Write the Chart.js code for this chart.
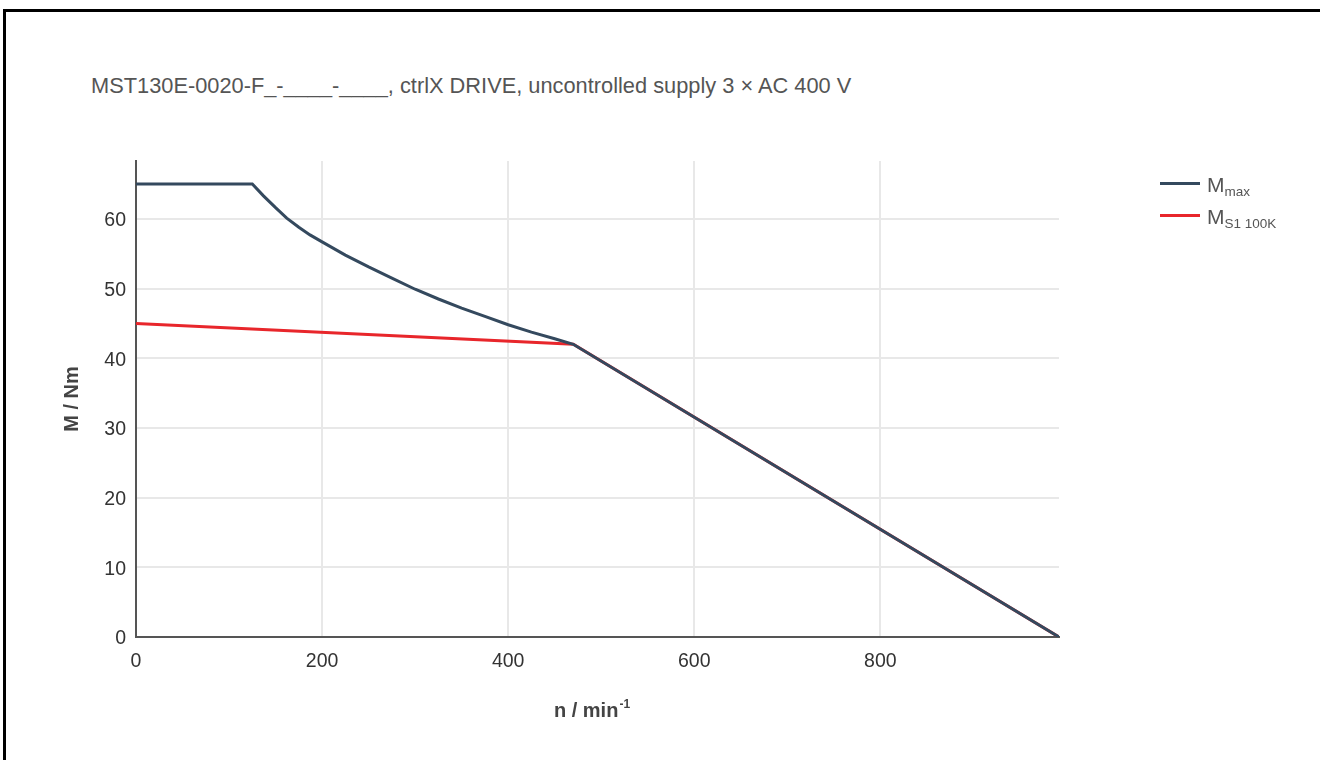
<!DOCTYPE html>
<html>
<head>
<meta charset="utf-8">
<script src="https://cdn.jsdelivr.net/npm/chart.js@4.4.1/dist/chart.umd.min.js"></script>
<style>
  html, body { margin: 0; padding: 0; background: #fff; overflow: hidden; }
  body { width: 1320px; height: 760px; position: relative; font-family: "Liberation Sans", Arial, sans-serif; }
  #frame { position: absolute; left: 3px; top: 9px; width: 1340px; height: 800px; border: 3px solid #000; box-sizing: border-box; }
  #title { position: absolute; left: 91px; top: 75px; font-size: 21.8px; line-height: 21px; color: #555; white-space: nowrap; }
  #wrap { position: absolute; left: 0; top: 0; width: 1320px; height: 760px; }
  .sw { position: absolute; left: 1160px; width: 40px; height: 3px; }
  .lt { position: absolute; left: 1207px; font-size: 21px; line-height: 21px; color: #555; white-space: nowrap; }
  .lt sub { font-size: 13.5px; vertical-align: -4px; line-height: 0; }
</style>
</head>
<body>
<div id="frame"></div>
<div id="title">MST130E-0020-F_-____-____, ctrlX DRIVE, uncontrolled supply 3 × AC 400 V</div>
<div id="wrap"><canvas id="c" width="1320" height="760"></canvas></div>
<div class="sw" style="top:182px;background:#34495e"></div>
<div class="lt" style="top:174px">M<sub>max</sub></div>
<div class="sw" style="top:214px;background:#e8262b"></div>
<div class="lt" style="top:206px">M<sub>S1 100K</sub></div>
<script>
const speedMax = [0, 125, 137, 150, 162, 175, 187, 200, 225, 250, 275, 300, 325, 350, 375, 400, 425, 450, 470, 992];
const torqueMax = [65, 65, 63.3, 61.6, 60.1, 58.8, 57.7, 56.7, 54.8, 53.1, 51.5, 49.9, 48.5, 47.2, 46.0, 44.8, 43.75, 42.8, 42.0, 0];
const speedS1 = [0, 470, 992];
const torqueS1 = [45, 42.0, 0];
const xTickValues = [0, 200, 400, 600, 800];
const yTickValues = [0, 10, 20, 30, 40, 50, 60];
const xTitle = 'n / min';
const xTitleSup = '-1';
const yTitle = 'M / Nm';

const toPts = (xs, ys) => xs.map((x, i) => ({ x: x, y: ys[i] }));
const FONT = '"Liberation Sans", Arial, sans-serif';

const axisTitles = {
  id: 'axisTitles',
  afterDraw(chart) {
    const ctx = chart.ctx;
    const a = chart.chartArea;
    ctx.save();
    ctx.fillStyle = '#444';
    ctx.textBaseline = 'alphabetic';
    ctx.textAlign = 'left';
    ctx.font = 'bold 20px ' + FONT;
    const w1 = ctx.measureText(xTitle).width;
    ctx.font = 'bold 12px ' + FONT;
    const w2 = ctx.measureText(xTitleSup).width;
    const cx = (a.left + a.right) / 2 - 6;
    const sx = cx - (w1 + w2) / 2;
    ctx.font = 'bold 20px ' + FONT;
    ctx.fillText(xTitle, sx, 717);
    ctx.font = 'bold 12px ' + FONT;
    ctx.fillText(xTitleSup, sx + w1 + 1, 708);
    ctx.font = 'bold 20px ' + FONT;
    ctx.translate(78, (a.top + a.bottom) / 2);
    ctx.rotate(-Math.PI / 2);
    ctx.textAlign = 'center';
    ctx.fillText(yTitle, 0, 0);
    ctx.restore();
  }
};

new Chart(document.getElementById('c'), {
  type: 'line',
  data: {
    datasets: [
      { label: 'M_max', data: toPts(speedMax, torqueMax), borderColor: '#34495e', borderWidth: 3, pointRadius: 0, tension: 0, order: 1 },
      { label: 'M_S1 100K', data: toPts(speedS1, torqueS1), borderColor: '#e8262b', borderWidth: 3, pointRadius: 0, tension: 0, order: 2 }
    ]
  },
  options: {
    responsive: false,
    animation: false,
    events: [],
    layout: { padding: { left: 0, top: 161, right: 261, bottom: 0 } },
    plugins: { legend: { display: false }, tooltip: { enabled: false }, title: { display: false } },
    scales: {
      x: {
        type: 'linear', min: 0, max: 992,
        afterFit(s) { s.height = 123; },
        afterBuildTicks(s) { s.ticks = xTickValues.map(v => ({ value: v })); },
        border: { display: true, color: '#555', width: 2 },
        grid: { color: '#e8e8e8', lineWidth: 2, drawTicks: false },
        ticks: { padding: 13, color: '#333', font: { size: 19.5, family: FONT }, maxRotation: 0, autoSkip: false }
      },
      y: {
        type: 'linear', min: 0, max: 68.3,
        afterFit(s) { s.width = 136; },
        afterBuildTicks(s) { s.ticks = yTickValues.map(v => ({ value: v })); },
        border: { display: true, color: '#555', width: 2 },
        grid: { color: '#e8e8e8', lineWidth: 2, drawTicks: false },
        ticks: { padding: 10, labelOffset: 2, color: '#333', font: { size: 19.5, family: FONT }, autoSkip: false }
      }
    }
  },
  plugins: [axisTitles]
});
</script>
</body>
</html>
